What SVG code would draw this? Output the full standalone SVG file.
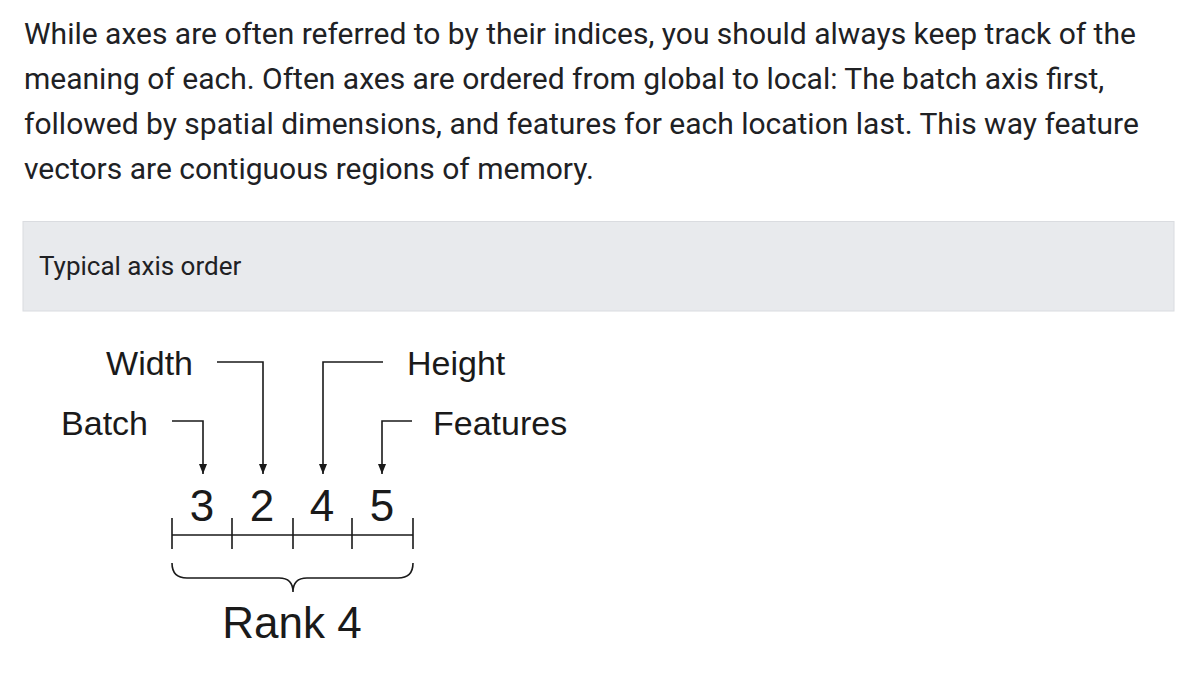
<svg xmlns="http://www.w3.org/2000/svg" width="1183" height="676" viewBox="0 0 1183 676">
<defs>
<style>
.para{font-family:Roboto,"Liberation Sans",sans-serif;font-size:30px;fill:#202124}
.hdr{font-family:Roboto,"Liberation Sans",sans-serif;font-size:26px;fill:#202124}
.lbl{font-family:"Liberation Sans",Arial,sans-serif;font-size:34px;fill:#1a1a1a}
.num{font-family:"Liberation Sans",Arial,sans-serif;font-size:44px;fill:#1a1a1a}
.ln{fill:none;stroke:#1a1a1a;stroke-width:1.6}
</style>
<marker id="ah" viewBox="0 0 10 8" refX="10" refY="4" markerWidth="10" markerHeight="8" markerUnits="userSpaceOnUse" orient="auto">
<path d="M0,0 L10,4 L0,8 Z" fill="#1a1a1a"/>
</marker>
</defs>
<rect width="1183" height="676" fill="#ffffff"/>
<g id="paragraph">
<text class="para" x="24" y="44">While axes are often referred to by their indices, you should always keep track of the</text>
<text class="para" x="24" y="89">meaning of each. Often axes are ordered from global to local: The batch axis first,</text>
<text class="para" x="24" y="134">followed by spatial dimensions, and features for each location last. This way feature</text>
<text class="para" x="24" y="179">vectors are contiguous regions of memory.</text>
</g>
<g id="header">
<rect x="23" y="221.5" width="1151" height="89.5" fill="#e8eaed" stroke="#dadce0" stroke-width="1"/>
<text class="hdr" x="39" y="275">Typical axis order</text>
</g>
<g id="label-width"><text class="lbl" x="193" y="375" text-anchor="end">Width</text></g>
<g id="label-batch"><text class="lbl" x="148" y="435" text-anchor="end">Batch</text></g>
<g id="label-height"><text class="lbl" x="407" y="375">Height</text></g>
<g id="label-features"><text class="lbl" x="433" y="435">Features</text></g>
<g id="connectors">
<path class="ln" d="M172,421 H203 V474" marker-end="url(#ah)"/>
<path class="ln" d="M217,362 H263 V474" marker-end="url(#ah)"/>
<path class="ln" d="M383,362 H323 V474" marker-end="url(#ah)"/>
<path class="ln" d="M412,421 H382 V474" marker-end="url(#ah)"/>
</g>
<g id="shape">
<text class="num" x="202" y="521" text-anchor="middle">3</text>
<text class="num" x="262" y="521" text-anchor="middle">2</text>
<text class="num" x="322" y="521" text-anchor="middle">4</text>
<text class="num" x="382" y="521" text-anchor="middle">5</text>
<path class="ln" d="M172,535 H413 M172,518 V549 M232,518 V549 M293,518 V549 M352,518 V549 M413,518 V549"/>
</g>
<g id="rank">
<path class="ln" d="M172,563 Q172,578 187,578 L279,578 Q293,578 293,592 Q293,578 307,578 L398,578 Q413,578 413,563"/>
<text class="num" x="292" y="638" text-anchor="middle">Rank 4</text>
</g>
</svg>
